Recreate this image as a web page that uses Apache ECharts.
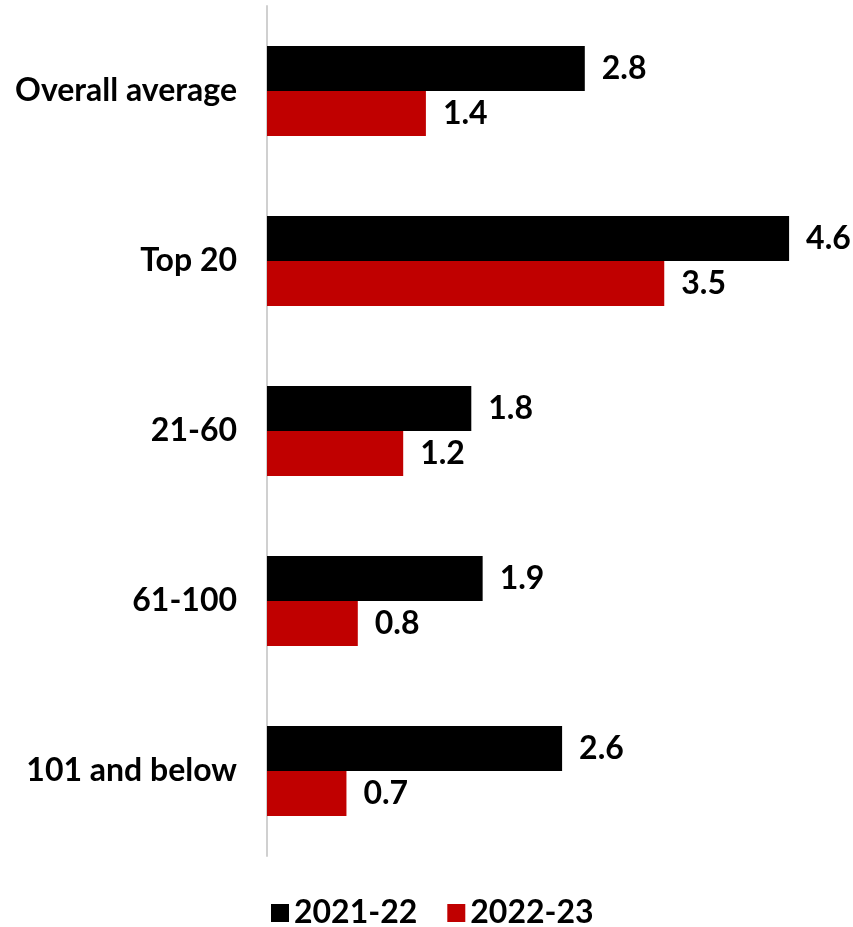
<!DOCTYPE html>
<html><head><meta charset="utf-8">
<script src="https://cdn.jsdelivr.net/npm/echarts@6/dist/echarts.min.js"></script>
<style>html,body{margin:0;padding:0;background:#fff}#c{width:853px;height:927px}</style>
</head><body><div id="c"></div>
<script>
var categories = ["Overall average", "Top 20", "21-60", "61-100", "101 and below"];
var series2021 = [2.8, 4.6, 1.8, 1.9, 2.6];
var series2022 = [1.4, 3.5, 1.2, 0.8, 0.7];
var seriesNames = ["2021-22", "2022-23"];

var font = "Lato";
var chart = echarts.init(document.getElementById('c'), null, {renderer: 'canvas'});
var lbl = {show: true, position: 'right', distance: 17, color: '#000', fontFamily: font, fontWeight: 'bold', fontSize: 32,
  formatter: function(p){ return p.value.toFixed(1); }};
chart.setOption({
  animation: false,
  grid: {left: 267, top: 6, height: 850, width: 567.5, containLabel: false},
  legend: {top: 897, left: 271, itemWidth: 18, itemHeight: 18, itemGap: 30, itemTextGap: 7, padding: 0,
    textStyle: {fontFamily: font, fontWeight: 'bold', fontSize: 32, color: '#000'},
    icon: 'rect', data: seriesNames},
  xAxis: {type: 'value', min: 0, max: 5, show: false},
  yAxis: {type: 'category', data: categories, inverse: true,
    axisLine: {show: true, lineStyle: {color: '#d0d0d0', width: 2}},
    axisTick: {show: false},
    axisLabel: {margin: 30, color: '#000', fontFamily: font, fontWeight: 'bold', fontSize: 32}},
  series: [
    {name: seriesNames[0], type: 'bar', data: series2021, barWidth: 45, barGap: '0%',
      itemStyle: {color: '#000000'}, label: lbl},
    {name: seriesNames[1], type: 'bar', data: series2022, barWidth: 45, barGap: '0%',
      itemStyle: {color: '#C00000'}, label: lbl}
  ]
});
</script></body></html>
